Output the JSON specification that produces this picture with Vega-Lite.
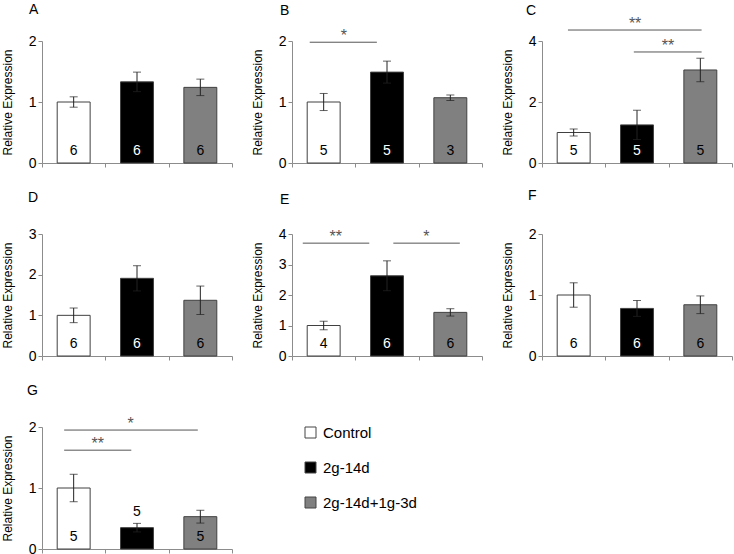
{
  "$schema": "https://vega.github.io/schema/vega-lite/v6.json",
  "padding": {"left": 1, "top": 3, "right": 0, "bottom": 0},
  "background": "white",
  "columns": 3,
  "spacing": {"row": 71, "column": 60},
  "bounds": "flush",
  "resolve": {"scale": {"x": "independent", "y": "independent", "fill": "shared"}},
  "config": {
    "view": {"stroke": null},
    "font": "Liberation Sans",
    "axis": {"grid": false, "domainColor": "#8c8c8c", "tickColor": "#8c8c8c", "labelFont": "Liberation Sans", "titleFont": "Liberation Sans", "labelFontSize": 14, "titleFontSize": 12, "titleFontWeight": "normal", "labelColor": "#000", "titleColor": "#000", "tickSize": 4, "labelPadding": 2, "labelOverlap": false},
    "title": {"anchor": "start", "font": "Liberation Sans", "fontSize": 14, "fontWeight": "normal", "baseline": "alphabetic", "frame": "group", "color": "#000"},
    "legend": {"orient": "none", "legendX": 261, "legendY": 384, "symbolType": "square", "symbolSize": 121, "symbolStrokeColor": "#444", "symbolStrokeWidth": 1, "labelFont": "Liberation Sans", "labelFontSize": 15, "labelColor": "#000", "rowPadding": 19, "labelOffset": 5, "padding": 0}
  },
  "concat": [
    {
      "width": 190, "height": 122,
      "title": {"text": "A", "dx": -13, "offset": 17},
      "data": {"values": [
        {"g": "Control", "mean": 1.0, "se": 0.085, "n": "6"},
        {"g": "2g-14d", "mean": 1.33, "se": 0.16, "n": "6"},
        {"g": "2g-14d+1g-3d", "mean": 1.24, "se": 0.135, "n": "6"}
      ]},
      "encoding": {
        "x": {"field": "g", "type": "nominal", "sort": null, "scale": {"paddingInner": 0, "paddingOuter": 0}, "axis": {"labels": false, "title": null, "tickBand": "extent"}},
        "y": {"field": "mean", "type": "quantitative", "title": "Relative Expression", "scale": {"domain": [0, 2], "nice": false}, "axis": {"values": [0, 1, 2], "tickCount": 10, "labelExpr": "datum.value + ''", "labelOverlap": false, "titlePadding": 14}}
      },
      "layer": [
        {"mark": {"type": "bar", "width": {"band": 0.52}, "stroke": "#404040", "strokeWidth": 1},
         "encoding": {"fill": {"field": "g", "type": "nominal", "scale": {"domain": ["Control", "2g-14d", "2g-14d+1g-3d"], "range": ["#ffffff", "#000000", "#808080"]}, "legend": {"title": null}}}},
        {"mark": {"type": "errorbar", "ticks": {"size": 8, "thickness": 1}, "color": "#222", "thickness": 1},
         "encoding": {"yError": {"field": "se"}}},
        {"mark": {"type": "text", "dy": -8, "baseline": "alphabetic", "fontSize": 14},
         "encoding": {"y": {"datum": 0, "type": "quantitative"}, "text": {"field": "n"}, "fill": {"condition": {"test": "datum.g === '2g-14d'", "value": "white"}, "value": "black"}}}
      ]
    },
    {
      "width": 190, "height": 122,
      "title": {"text": "B", "dx": -12, "offset": 10},
      "data": {"values": [
        {"g": "Control", "mean": 1.0, "se": 0.14, "n": "5"},
        {"g": "2g-14d", "mean": 1.49, "se": 0.18, "n": "5"},
        {"g": "2g-14d+1g-3d", "mean": 1.07, "se": 0.045, "n": "3"}
      ]},
      "resolve": {"scale": {"x": "independent"}},
      "layer": [
        {"encoding": {
           "x": {"field": "g", "type": "nominal", "sort": null, "scale": {"paddingInner": 0, "paddingOuter": 0}, "axis": {"labels": false, "title": null, "tickBand": "extent"}},
           "y": {"field": "mean", "type": "quantitative", "title": "Relative Expression", "scale": {"domain": [0, 2], "nice": false}, "axis": {"values": [0, 1, 2], "tickCount": 10, "labelExpr": "datum.value + ''", "labelOverlap": false, "titlePadding": 14}}},
         "layer": [
          {"mark": {"type": "bar", "width": {"band": 0.52}, "stroke": "#404040", "strokeWidth": 1},
           "encoding": {"fill": {"field": "g", "type": "nominal", "scale": {"domain": ["Control", "2g-14d", "2g-14d+1g-3d"], "range": ["#ffffff", "#000000", "#808080"]}, "legend": {"title": null}}}},
          {"mark": {"type": "errorbar", "ticks": {"size": 8, "thickness": 1}, "color": "#222", "thickness": 1},
           "encoding": {"yError": {"field": "se"}}},
          {"mark": {"type": "text", "dy": -8, "baseline": "alphabetic", "fontSize": 14},
           "encoding": {"y": {"datum": 0, "type": "quantitative"}, "text": {"field": "n"}, "fill": {"condition": {"test": "datum.g === '2g-14d'", "value": "white"}, "value": "black"}}}
         ]},
        {"data": {"values": [{"x1": 0.28, "x2": 1.34, "xm": 0.82, "ly": 1.98, "s": "*"}]},
         "encoding": {"y": {"field": "ly", "type": "quantitative", "title": "Relative Expression"}},
         "layer": [
           {"mark": {"type": "rule", "color": "#555", "strokeWidth": 1},
            "encoding": {"x": {"field": "x1", "type": "quantitative", "scale": {"domain": [0, 3], "nice": false}, "axis": null}, "x2": {"field": "x2"}}},
           {"mark": {"type": "text", "dy": -1, "baseline": "alphabetic", "fontSize": 16, "color": "#555"},
            "encoding": {"x": {"field": "xm", "type": "quantitative", "scale": {"domain": [0, 3], "nice": false}, "axis": null}, "text": {"field": "s"}}}
         ]}
      ]
    },
    {
      "width": 190, "height": 122,
      "title": {"text": "C", "dx": -16, "offset": -2},
      "data": {"values": [
        {"g": "Control", "mean": 1.0, "se": 0.115, "n": "5"},
        {"g": "2g-14d", "mean": 1.25, "se": 0.48, "n": "5"},
        {"g": "2g-14d+1g-3d", "mean": 3.05, "se": 0.385, "n": "5"}
      ]},
      "resolve": {"scale": {"x": "independent"}},
      "layer": [
        {"encoding": {
           "x": {"field": "g", "type": "nominal", "sort": null, "scale": {"paddingInner": 0, "paddingOuter": 0}, "axis": {"labels": false, "title": null, "tickBand": "extent"}},
           "y": {"field": "mean", "type": "quantitative", "title": "Relative Expression", "scale": {"domain": [0, 4], "nice": false}, "axis": {"values": [0, 2, 4], "tickCount": 10, "labelExpr": "datum.value + ''", "labelOverlap": false, "titlePadding": 14}}},
         "layer": [
          {"mark": {"type": "bar", "width": {"band": 0.52}, "stroke": "#404040", "strokeWidth": 1},
           "encoding": {"fill": {"field": "g", "type": "nominal", "scale": {"domain": ["Control", "2g-14d", "2g-14d+1g-3d"], "range": ["#ffffff", "#000000", "#808080"]}, "legend": {"title": null}}}},
          {"mark": {"type": "errorbar", "ticks": {"size": 8, "thickness": 1}, "color": "#222", "thickness": 1},
           "encoding": {"yError": {"field": "se"}}},
          {"mark": {"type": "text", "dy": -8, "baseline": "alphabetic", "fontSize": 14},
           "encoding": {"y": {"datum": 0, "type": "quantitative"}, "text": {"field": "n"}, "fill": {"condition": {"test": "datum.g === '2g-14d'", "value": "white"}, "value": "black"}}}
         ]},
        {"data": {"values": [
            {"x1": 0.41, "x2": 2.52, "xm": 1.47, "ly": 4.36, "s": "**"},
            {"x1": 1.45, "x2": 2.52, "xm": 1.99, "ly": 3.64, "s": "**"}
          ]},
         "encoding": {"y": {"field": "ly", "type": "quantitative", "title": "Relative Expression"}},
         "layer": [
           {"mark": {"type": "rule", "color": "#555", "strokeWidth": 1},
            "encoding": {"x": {"field": "x1", "type": "quantitative", "scale": {"domain": [0, 3], "nice": false}, "axis": null}, "x2": {"field": "x2"}}},
           {"mark": {"type": "text", "dy": -1, "baseline": "alphabetic", "fontSize": 16, "color": "#555"},
            "encoding": {"x": {"field": "xm", "type": "quantitative", "scale": {"domain": [0, 3], "nice": false}, "axis": null}, "text": {"field": "s"}}}
         ]}
      ]
    },
    {
      "width": 190, "height": 122,
      "title": {"text": "D", "dx": -14, "offset": 22},
      "data": {"values": [
        {"g": "Control", "mean": 1.0, "se": 0.18, "n": "6"},
        {"g": "2g-14d", "mean": 1.91, "se": 0.31, "n": "6"},
        {"g": "2g-14d+1g-3d", "mean": 1.37, "se": 0.35, "n": "6"}
      ]},
      "encoding": {
        "x": {"field": "g", "type": "nominal", "sort": null, "scale": {"paddingInner": 0, "paddingOuter": 0}, "axis": {"labels": false, "title": null, "tickBand": "extent"}},
        "y": {"field": "mean", "type": "quantitative", "title": "Relative Expression", "scale": {"domain": [0, 3], "nice": false}, "axis": {"values": [0, 1, 2, 3], "tickCount": 10, "labelExpr": "datum.value + ''", "labelOverlap": false, "titlePadding": 14}}
      },
      "layer": [
        {"mark": {"type": "bar", "width": {"band": 0.52}, "stroke": "#404040", "strokeWidth": 1},
         "encoding": {"fill": {"field": "g", "type": "nominal", "scale": {"domain": ["Control", "2g-14d", "2g-14d+1g-3d"], "range": ["#ffffff", "#000000", "#808080"]}, "legend": {"title": null}}}},
        {"mark": {"type": "errorbar", "ticks": {"size": 8, "thickness": 1}, "color": "#222", "thickness": 1},
         "encoding": {"yError": {"field": "se"}}},
        {"mark": {"type": "text", "dy": -8, "baseline": "alphabetic", "fontSize": 14},
         "encoding": {"y": {"datum": 0, "type": "quantitative"}, "text": {"field": "n"}, "fill": {"condition": {"test": "datum.g === '2g-14d'", "value": "white"}, "value": "black"}}}
      ]
    },
    {
      "width": 190, "height": 122,
      "title": {"text": "E", "dx": -12, "offset": 20},
      "data": {"values": [
        {"g": "Control", "mean": 1.0, "se": 0.14, "n": "4"},
        {"g": "2g-14d", "mean": 2.63, "se": 0.49, "n": "6"},
        {"g": "2g-14d+1g-3d", "mean": 1.43, "se": 0.12, "n": "6"}
      ]},
      "resolve": {"scale": {"x": "independent"}},
      "layer": [
        {"encoding": {
           "x": {"field": "g", "type": "nominal", "sort": null, "scale": {"paddingInner": 0, "paddingOuter": 0}, "axis": {"labels": false, "title": null, "tickBand": "extent"}},
           "y": {"field": "mean", "type": "quantitative", "title": "Relative Expression", "scale": {"domain": [0, 4], "nice": false}, "axis": {"values": [0, 1, 2, 3, 4], "tickCount": 10, "labelExpr": "datum.value + ''", "labelOverlap": false, "titlePadding": 14}}},
         "layer": [
          {"mark": {"type": "bar", "width": {"band": 0.52}, "stroke": "#404040", "strokeWidth": 1},
           "encoding": {"fill": {"field": "g", "type": "nominal", "scale": {"domain": ["Control", "2g-14d", "2g-14d+1g-3d"], "range": ["#ffffff", "#000000", "#808080"]}, "legend": {"title": null}}}},
          {"mark": {"type": "errorbar", "ticks": {"size": 8, "thickness": 1}, "color": "#222", "thickness": 1},
           "encoding": {"yError": {"field": "se"}}},
          {"mark": {"type": "text", "dy": -8, "baseline": "alphabetic", "fontSize": 14},
           "encoding": {"y": {"datum": 0, "type": "quantitative"}, "text": {"field": "n"}, "fill": {"condition": {"test": "datum.g === '2g-14d'", "value": "white"}, "value": "black"}}}
         ]},
        {"data": {"values": [
            {"x1": 0.17, "x2": 1.22, "xm": 0.69, "ly": 3.7, "s": "**"},
            {"x1": 1.6, "x2": 2.65, "xm": 2.12, "ly": 3.7, "s": "*"}
          ]},
         "encoding": {"y": {"field": "ly", "type": "quantitative", "title": "Relative Expression"}},
         "layer": [
           {"mark": {"type": "rule", "color": "#555", "strokeWidth": 1},
            "encoding": {"x": {"field": "x1", "type": "quantitative", "scale": {"domain": [0, 3], "nice": false}, "axis": null}, "x2": {"field": "x2"}}},
           {"mark": {"type": "text", "dy": -1, "baseline": "alphabetic", "fontSize": 16, "color": "#555"},
            "encoding": {"x": {"field": "xm", "type": "quantitative", "scale": {"domain": [0, 3], "nice": false}, "axis": null}, "text": {"field": "s"}}}
         ]}
      ]
    },
    {
      "width": 190, "height": 122,
      "title": {"text": "F", "dx": -14, "offset": 24},
      "data": {"values": [
        {"g": "Control", "mean": 1.0, "se": 0.2, "n": "6"},
        {"g": "2g-14d", "mean": 0.78, "se": 0.13, "n": "6"},
        {"g": "2g-14d+1g-3d", "mean": 0.84, "se": 0.145, "n": "6"}
      ]},
      "encoding": {
        "x": {"field": "g", "type": "nominal", "sort": null, "scale": {"paddingInner": 0, "paddingOuter": 0}, "axis": {"labels": false, "title": null, "tickBand": "extent"}},
        "y": {"field": "mean", "type": "quantitative", "title": "Relative Expression", "scale": {"domain": [0, 2], "nice": false}, "axis": {"values": [0, 1, 2], "tickCount": 10, "labelExpr": "datum.value + ''", "labelOverlap": false, "titlePadding": 14}}
      },
      "layer": [
        {"mark": {"type": "bar", "width": {"band": 0.52}, "stroke": "#404040", "strokeWidth": 1},
         "encoding": {"fill": {"field": "g", "type": "nominal", "scale": {"domain": ["Control", "2g-14d", "2g-14d+1g-3d"], "range": ["#ffffff", "#000000", "#808080"]}, "legend": {"title": null}}}},
        {"mark": {"type": "errorbar", "ticks": {"size": 8, "thickness": 1}, "color": "#222", "thickness": 1},
         "encoding": {"yError": {"field": "se"}}},
        {"mark": {"type": "text", "dy": -8, "baseline": "alphabetic", "fontSize": 14},
         "encoding": {"y": {"datum": 0, "type": "quantitative"}, "text": {"field": "n"}, "fill": {"condition": {"test": "datum.g === '2g-14d'", "value": "white"}, "value": "black"}}}
      ]
    },
    {
      "width": 190, "height": 122,
      "title": {"text": "G", "dx": -15, "offset": 18},
      "data": {"values": [
        {"g": "Control", "mean": 1.0, "se": 0.225, "n": "5"},
        {"g": "2g-14d", "mean": 0.35, "se": 0.07, "n": "5"},
        {"g": "2g-14d+1g-3d", "mean": 0.53, "se": 0.105, "n": "5"}
      ]},
      "resolve": {"scale": {"x": "independent"}},
      "layer": [
        {"encoding": {
           "x": {"field": "g", "type": "nominal", "sort": null, "scale": {"paddingInner": 0, "paddingOuter": 0}, "axis": {"labels": false, "title": null, "tickBand": "extent"}},
           "y": {"field": "mean", "type": "quantitative", "title": "Relative Expression", "scale": {"domain": [0, 2], "nice": false}, "axis": {"values": [0, 1, 2], "tickCount": 10, "labelExpr": "datum.value + ''", "labelOverlap": false, "titlePadding": 14}}},
         "layer": [
          {"mark": {"type": "bar", "width": {"band": 0.52}, "stroke": "#404040", "strokeWidth": 1},
           "encoding": {"fill": {"field": "g", "type": "nominal", "scale": {"domain": ["Control", "2g-14d", "2g-14d+1g-3d"], "range": ["#ffffff", "#000000", "#808080"]}, "legend": {"title": null}}}},
          {"mark": {"type": "errorbar", "ticks": {"size": 8, "thickness": 1}, "color": "#222", "thickness": 1},
           "encoding": {"yError": {"field": "se"}}},
          {"transform": [{"filter": "datum.g !== '2g-14d'"}],
           "mark": {"type": "text", "dy": -8, "baseline": "alphabetic", "fontSize": 14, "color": "black"},
           "encoding": {"y": {"datum": 0, "type": "quantitative"}, "text": {"field": "n"}}},
          {"transform": [{"filter": "datum.g === '2g-14d'"}],
           "mark": {"type": "text", "dy": -12, "baseline": "alphabetic", "fontSize": 14, "color": "black"},
           "encoding": {"text": {"field": "n"}}}
         ]},
        {"data": {"values": [
            {"x1": 0.35, "x2": 2.46, "xm": 1.4, "ly": 1.95, "s": "*"},
            {"x1": 0.35, "x2": 1.41, "xm": 0.88, "ly": 1.62, "s": "**"}
          ]},
         "encoding": {"y": {"field": "ly", "type": "quantitative", "title": "Relative Expression"}},
         "layer": [
           {"mark": {"type": "rule", "color": "#555", "strokeWidth": 1},
            "encoding": {"x": {"field": "x1", "type": "quantitative", "scale": {"domain": [0, 3], "nice": false}, "axis": null}, "x2": {"field": "x2"}}},
           {"mark": {"type": "text", "dy": -1, "baseline": "alphabetic", "fontSize": 16, "color": "#555"},
            "encoding": {"x": {"field": "xm", "type": "quantitative", "scale": {"domain": [0, 3], "nice": false}, "axis": null}, "text": {"field": "s"}}}
         ]}
      ]
    }
  ]
}
